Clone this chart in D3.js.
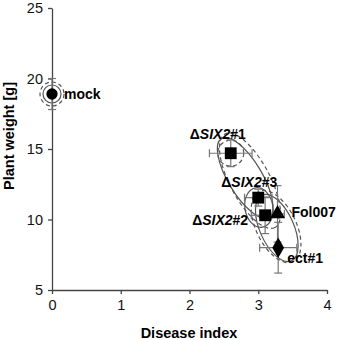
<html>
<head>
  <script src="https://d3js.org/d3.v7.min.js"></script>
  <style>
    body { margin: 0; background: #fff; }
    text { font-family: "Liberation Sans", Arial, sans-serif; }
    .axis path, .axis line { stroke: #444; stroke-width: 1.3; }
    .axis text { font-size: 14.5px; fill: #111; }
  </style>
</head>
<body>
  <svg id="chart" width="340" height="340"></svg>
  <script>
    // strains, disease index (x), plant weight (y), errors
    const names = ["mock", "ΔSIX2#1", "ΔSIX2#3", "ΔSIX2#2", "Fol007", "ect#1"];
    const disease = [0, 2.6, 3.0, 3.1, 3.28, 3.29];
    const weight = [18.9, 14.7, 11.55, 10.3, 10.4, 8.0];
    const diseaseErr = [0, 0.31, 0.2, 0.2, 0.1, 0.27];
    const weightErr = [1.1, 0.95, 0.6, 1.3, 2.0, 1.8];
    const shapes = ["circle", "square", "square", "square", "triangle", "diamond"];

    // clusters: center (x, y), half axes, tilt, dashed or not
    const ellX = [0, 0, 2.81, 2.88, 3.01, 3.27, 3.26, 2.6];
    const ellY = [18.9, 18.9, 12.95, 12.75, 10.85, 9.4, 9.5, 14.7];
    const ellA = [9, 12, 46, 53, 20, 36, 39, 13];
    const ellB = [9, 12, 17, 20, 14, 17, 20, 13];
    const ellAngle = [0, 0, 59, 62, 80, 66, 64, 0];
    const ellDash = [false, true, false, true, false, false, true, true];

    const xTicks = [0, 1, 2, 3, 4];
    const yTicks = [5, 10, 15, 20, 25];

    const svg = d3.select("#chart");
    const x = d3.scaleLinear().domain([0, 4]).range([52, 327]);
    const y = d3.scaleLinear().domain([5, 25]).range([290, 8]);

    svg.append("g")
      .attr("class", "axis")
      .attr("transform", "translate(0,290)")
      .call(d3.axisBottom(x).tickValues(xTicks).tickFormat(d3.format("d")).tickSize(4).tickSizeOuter(0).tickPadding(6));
    svg.append("g")
      .attr("class", "axis")
      .attr("transform", "translate(52,0)")
      .call(d3.axisLeft(y).tickValues(yTicks).tickFormat(d3.format("d")).tickSize(4).tickSizeOuter(0).tickPadding(5));

    svg.append("text")
      .attr("x", 189).attr("y", 338)
      .attr("text-anchor", "middle")
      .style("font-size", "14.5px").style("font-weight", "bold")
      .text("Disease index");
    svg.append("text")
      .attr("transform", "translate(14,136) rotate(-90)")
      .attr("text-anchor", "middle")
      .style("font-size", "14.5px").style("font-weight", "bold")
      .text("Plant weight [g]");

    // ellipses
    const ells = ellX.map((d, i) => ({ x: d, y: ellY[i], a: ellA[i], b: ellB[i], ang: ellAngle[i], dash: ellDash[i] }));
    svg.append("g").selectAll("ellipse").data(ells).join("ellipse")
      .attr("cx", 0).attr("cy", 0)
      .attr("rx", d => d.a).attr("ry", d => d.b)
      .attr("transform", d => `translate(${x(d.x)},${y(d.y)}) rotate(${d.ang})`)
      .attr("fill", "none")
      .attr("stroke", "#555")
      .attr("stroke-width", 1.2)
      .attr("stroke-dasharray", d => d.dash ? "4,3" : null);

    const pts = names.map((n, i) => ({ name: n, x: disease[i], y: weight[i], ex: diseaseErr[i], ey: weightErr[i], shape: shapes[i] }));

    // error bars
    const eb = svg.append("g").attr("stroke", "#777").attr("stroke-width", 1.2);
    pts.forEach(d => {
      eb.append("line").attr("x1", x(d.x)).attr("x2", x(d.x)).attr("y1", y(d.y - d.ey)).attr("y2", y(d.y + d.ey));
      [d.y - d.ey, d.y + d.ey].forEach(v => {
        eb.append("line").attr("x1", x(d.x) - 4).attr("x2", x(d.x) + 4).attr("y1", y(v)).attr("y2", y(v));
      });
      if (d.ex > 0) {
        eb.append("line").attr("y1", y(d.y)).attr("y2", y(d.y)).attr("x1", x(d.x - d.ex)).attr("x2", x(d.x + d.ex));
        [d.x - d.ex, d.x + d.ex].forEach(v => {
          eb.append("line").attr("y1", y(d.y) - 4).attr("y2", y(d.y) + 4).attr("x1", x(v)).attr("x2", x(v));
        });
      }
    });

    const symType = { circle: d3.symbolCircle, square: d3.symbolSquare, triangle: d3.symbolTriangle, diamond: d3.symbolDiamond };
    const symSize = { circle: 100, square: 140, triangle: 100, diamond: 120 };
    svg.append("g").selectAll("path").data(pts).join("path")
      .attr("transform", d => `translate(${x(d.x)},${y(d.y)})`)
      .attr("d", d => d3.symbol(symType[d.shape], symSize[d.shape])())
      .attr("fill", "#000");

    // label placement (pixel offsets from each point)
    const labelOff = {
      "mock": [12, 5], "ΔSIX2#1": [-41, -14], "ΔSIX2#3": [-37, -11],
      "ΔSIX2#2": [-73, 10], "Fol007": [14, 3], "ect#1": [9, 15]
    };
    const lab = svg.append("g").style("font-size", "14px").style("font-weight", "bold");
    pts.forEach(d => {
      const t = lab.append("text")
        .attr("x", x(d.x) + labelOff[d.name][0])
        .attr("y", y(d.y) + labelOff[d.name][1]);
      const m = d.name.match(/^(Δ)(SIX2)(.*)$/);
      if (m) {
        t.append("tspan").text(m[1]);
        t.append("tspan").style("font-style", "italic").text(m[2]);
        t.append("tspan").text(m[3]);
      } else {
        t.text(d.name);
      }
    });
  </script>
</body>
</html>
